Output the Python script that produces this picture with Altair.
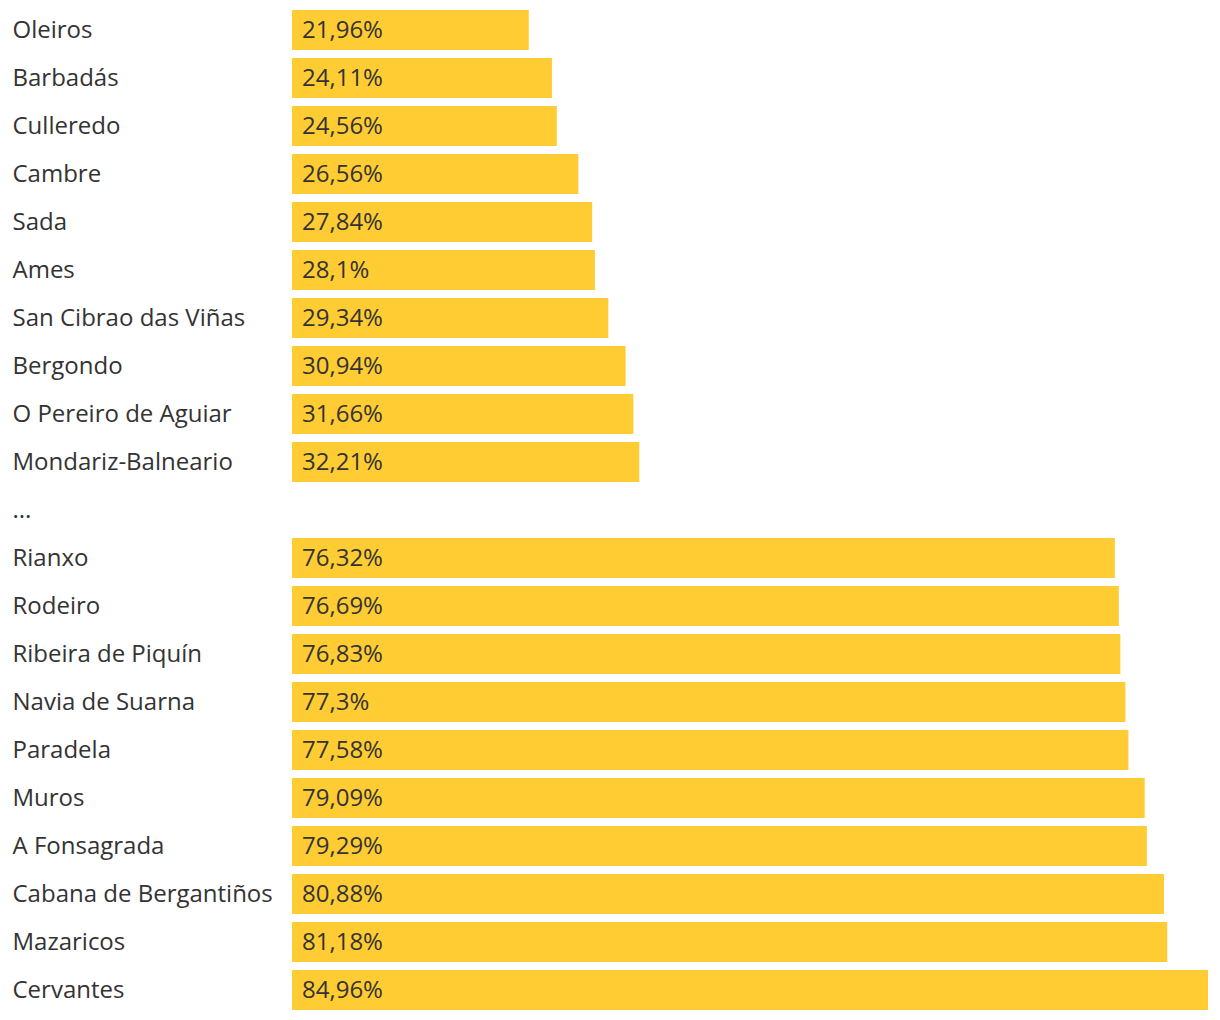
import altair as alt
import pandas as pd

municipios = [
    "Oleiros", "Barbadás", "Culleredo", "Cambre", "Sada", "Ames",
    "San Cibrao das Viñas", "Bergondo", "O Pereiro de Aguiar", "Mondariz-Balneario",
    "...",
    "Rianxo", "Rodeiro", "Ribeira de Piquín", "Navia de Suarna", "Paradela",
    "Muros", "A Fonsagrada", "Cabana de Bergantiños", "Mazaricos", "Cervantes",
]
valores = [
    21.96, 24.11, 24.56, 26.56, 27.84, 28.1, 29.34, 30.94, 31.66, 32.21,
    None,
    76.32, 76.69, 76.83, 77.3, 77.58, 79.09, 79.29, 80.88, 81.18, 84.96,
]
etiquetas = [("" if v is None else (str(v).replace(".", ",") + "%")) for v in valores]

df = pd.DataFrame({"municipio": municipios, "valor": valores, "etiqueta": etiquetas})

FONT = "Open Sans"
TXT = "#333333"
FS = 24

y_enc = alt.Y(
    "municipio:N",
    sort=municipios,
    title=None,
    scale=alt.Scale(paddingInner=8 / 48, paddingOuter=2 / 48),
    axis=alt.Axis(
        labelAlign="left",
        labelPadding=280,
        labelOffset=1,
        labelFont=FONT,
        labelFontSize=FS,
        labelColor=TXT,
        labelLimit=400,
        domain=False,
        ticks=False,
        grid=False,
    ),
)
x_scale = alt.Scale(domain=[0, 84.96], nice=False, zero=True)

bars = alt.Chart(df).mark_bar(color="#FFCC33").encode(
    y=y_enc,
    x=alt.X("valor:Q", scale=x_scale, axis=None),
)
labels = alt.Chart(df).transform_filter("datum.valor != null").transform_calculate(
    zero="0"
).mark_text(
    align="left", baseline="middle", dx=10, dy=1, font=FONT, fontSize=FS, color=TXT
).encode(
    y=alt.Y("municipio:N", sort=municipios),
    x=alt.X("zero:Q", scale=x_scale, axis=None),
    text="etiqueta:N",
)

chart = alt.layer(bars, labels).properties(
    width=916,
    height=1004,
    padding={"left": 284, "top": 0, "right": 0, "bottom": 0},
    autosize=alt.AutoSizeParams(type="none"),
).configure_view(stroke=None)

chart.save("out.html", embed_options={"renderer": "svg", "actions": False})
